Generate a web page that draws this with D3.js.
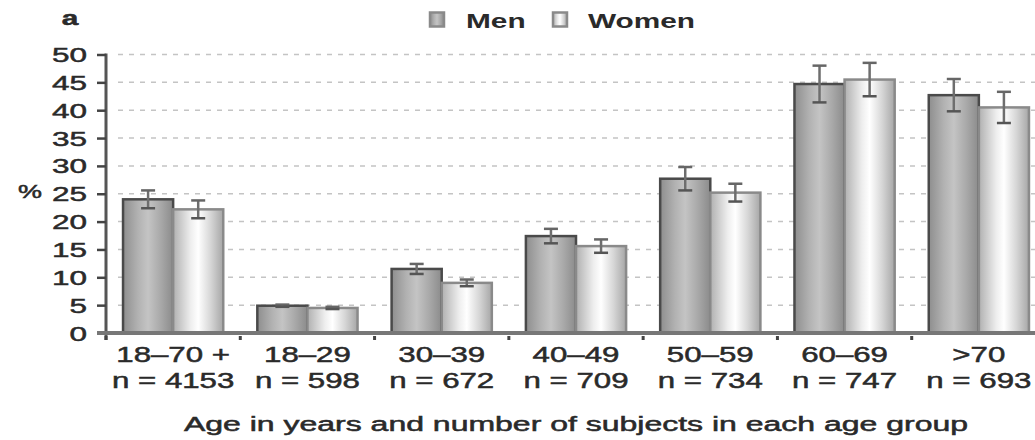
<!DOCTYPE html>
<html>
<head>
    <meta charset='utf-8'>
    <title> Prevalence by age group </title>
    <script src='https://d3js.org/d3.v7.min.js'></script>
    <style>
      body { margin: 0; background: #fff; }
      text { font-family: "Liberation Sans", Arial, sans-serif; fill: #2a2a2a; stroke: #2a2a2a; stroke-width: 0.5px; }
    </style>
</head>
<body>

<div id="container"></div>

<script>

// data
const groups = ["18–70 +", "18–29", "30–39", "40–49", "50–59", "60–69", ">70"];
const counts = ["n = 4153", "n = 598", "n = 672", "n = 709", "n = 734", "n = 747", "n = 693"];
const series = ["Men", "Women"];
const menValues   = [24.0, 4.9, 11.5, 17.4, 27.7, 44.7, 42.7];
const menErr      = [1.6, 0.2, 0.9, 1.3, 2.1, 3.3, 2.9];
const womenValues = [22.2, 4.5, 9.0, 15.6, 25.2, 45.5, 40.5];
const womenErr    = [1.6, 0.2, 0.6, 1.2, 1.6, 3.0, 2.8];
const yTicks = [0, 5, 10, 15, 20, 25, 30, 35, 40, 45, 50];

const width = 1035,
      height = 440,
      margin = {
          top: 54.5,
          bottom: 107,
          left: 106,
          right: -11,
      };
const sx = 1.42; // the figure is stretched sideways

const svg = d3.select("#container")
  .append("svg")
  .attr("width", width)
  .attr("height", height);

const defs = svg.append("defs");
function gradient(id, stops) {
  const g = defs.append("linearGradient").attr("id", id)
    .attr("x1", "0%").attr("x2", "100%").attr("y1", "0%").attr("y2", "0%");
  stops.forEach(function(s) {
    g.append("stop").attr("offset", s[0]).attr("stop-color", s[1]);
  });
}
gradient("menGrad", [[0, "#8e8e8e"], [0.3, "#b2b2b2"], [0.5, "#c4c4c4"], [0.75, "#a9a9a9"], [1, "#8b8b8b"]]);
gradient("womenGrad", [[0, "#b0b0b0"], [0.35, "#eeeeee"], [0.5, "#ffffff"], [0.75, "#d6d6d6"], [1, "#a6a6a6"]]);

const fills = { Men: "url(#menGrad)", Women: "url(#womenGrad)" };
const strokes = { Men: "#4a4a4a", Women: "#8a8a8a" };

const x = d3.scaleBand()
  .domain(groups)
  .range([margin.left, width - margin.right])
  .padding(0);

const xInner = d3.scaleBand()
  .domain(series)
  .range([0, x.bandwidth()])
  .paddingInner(0)
  .paddingOuter(0.34);

const y = d3.scaleLinear()
  .domain([0, 50])
  .range([height - margin.bottom, margin.top]);

function stretched(parent, px, py, str, anchor, scaleX) {
  return parent.append("text")
    .attr("transform", `translate(${px}, ${py}) scale(${scaleX || sx}, 1)`)
    .attr("text-anchor", anchor || "middle")
    .text(str);
}

// gridlines
svg.append("g")
  .selectAll("line")
  .data(yTicks.filter(function(d) { return d > 0; }))
  .enter()
  .append("line")
  .attr("x1", 118)
  .attr("x2", width)
  .attr("y1", function(d) { return y(d); })
  .attr("y2", function(d) { return y(d); })
  .attr("stroke", "#c4c4c4")
  .attr("stroke-width", 1.5)
  .attr("stroke-dasharray", "5,6");

// y axis
const yAxis = svg.append("g")
  .attr("transform", `translate(${margin.left}, 0)`)
  .call(d3.axisLeft(y).tickValues(yTicks).tickSize(9).tickFormat(""));
yAxis.select(".domain").attr("stroke", "#555").attr("stroke-width", 3)
  .attr("d", `M0,${margin.top - 1}V${height - margin.bottom + 7}`);
yAxis.selectAll(".tick line").attr("stroke", "#444").attr("stroke-width", 2.5);

yTicks.forEach(function(t) {
  stretched(svg, 87, y(t) + 7.5, String(t), "end", 1.5).style("font-size", "21px");
});

// bars
const data = [];
groups.forEach(function(g, i) {
  data.push({ group: g, key: "Men", value: menValues[i], err: menErr[i] });
  data.push({ group: g, key: "Women", value: womenValues[i], err: womenErr[i] });
});

svg.append("g")
  .selectAll("rect")
  .data(data)
  .enter()
  .append("rect")
  .attr("x", function(d) { return x(d.group) + xInner(d.key); })
  .attr("y", function(d) { return y(d.value); })
  .attr("width", xInner.bandwidth())
  .attr("height", function(d) { return y(0) - y(d.value); })
  .attr("fill", function(d) { return fills[d.key]; })
  .attr("stroke", function(d) { return strokes[d.key]; })
  .attr("stroke-width", 2.5);

// error bars
const eb = svg.append("g")
  .selectAll("g")
  .data(data)
  .enter()
  .append("g")
  .attr("transform", function(d) { return `translate(${x(d.group) + xInner(d.key) + xInner.bandwidth() / 2}, 0)`; });

eb.append("line")
  .attr("y1", function(d) { return y(d.value + d.err); })
  .attr("y2", function(d) { return y(d.value - d.err); })
  .attr("stroke", "#6e6e6e")
  .attr("stroke-width", 2.5);
eb.append("line")
  .attr("x1", -7).attr("x2", 7)
  .attr("y1", function(d) { return y(d.value + d.err); })
  .attr("y2", function(d) { return y(d.value + d.err); })
  .attr("stroke", "#666")
  .attr("stroke-width", 2.5);
eb.append("line")
  .attr("x1", -7).attr("x2", 7)
  .attr("y1", function(d) { return y(d.value - d.err); })
  .attr("y2", function(d) { return y(d.value - d.err); })
  .attr("stroke", "#555")
  .attr("stroke-width", 2.5);

// x axis
const xAxis = svg.append("g")
  .attr("transform", `translate(0, ${y(0)})`)
  .call(d3.axisBottom(x).tickSize(0).tickFormat(""));
xAxis.select(".domain").attr("stroke", "#777").attr("stroke-width", 4)
  .attr("d", `M97,0H${width}`);

// small marks between the groups
svg.append("g")
  .selectAll("rect")
  .data(groups)
  .enter()
  .append("rect")
  .attr("x", function(d) { return x(d) - 1.5; })
  .attr("y", y(0) + 3)
  .attr("width", 3)
  .attr("height", 4)
  .attr("fill", "#444");

groups.forEach(function(g, i) {
  const cx = x(g) + x.bandwidth() / 2;
  stretched(svg, cx, 362, g).style("font-size", "22px");
  stretched(svg, cx, 388, counts[i]).style("font-size", "22px");
});

stretched(svg, (margin.left + width - margin.right) / 2, 431,
  "Age in years and number of subjects in each age group", "middle", 1.6).style("font-size", "20px");

stretched(svg, 30, 198, "%").style("font-size", "19px");
stretched(svg, 70, 25, "a").style("font-size", "21px").style("font-weight", "bold");

// legend
const legend = svg.append("g");
const legendX = [429, 552];
const legendTextX = [466, 588];
series.forEach(function(s, i) {
  legend.append("rect")
    .attr("x", legendX[i] + 1)
    .attr("y", 12.5)
    .attr("width", 14)
    .attr("height", 14)
    .attr("fill", fills[s])
    .attr("stroke", "#8a8a8a")
    .attr("stroke-width", 2.5);
  stretched(legend, legendTextX[i], 27.5, s, "start")
    .style("font-size", "21px")
    .style("font-weight", "bold")
    .style("stroke-width", "0px");
});

</script>

</body>
</html>
